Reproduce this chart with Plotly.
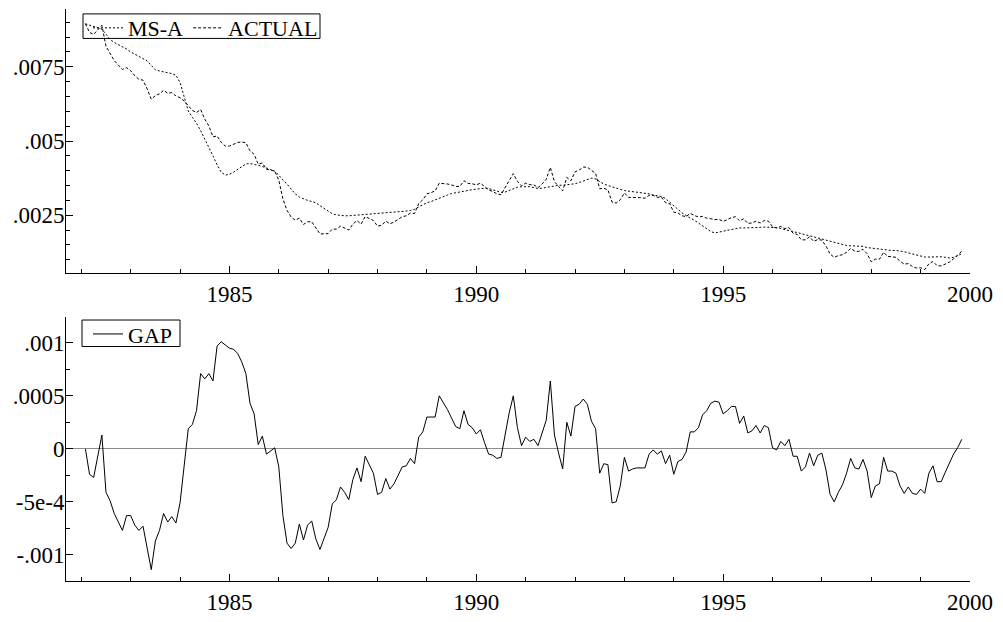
import plotly.graph_objects as go

# ---------------- data (monthly, 1982:2 .. 1999:11) ----------------
START_YEAR = 1982
START_MONTH = 2

msa = [
    0.00895, 0.00890, 0.00886, 0.00882, 0.00877, 0.00860, 0.00842, 0.00832, 0.00825, 0.00818,
    0.00810, 0.00800, 0.00792, 0.00785, 0.00778, 0.00770, 0.00755, 0.00740, 0.00736, 0.00732,
    0.00730, 0.00727, 0.00722, 0.00697, 0.00652, 0.00601, 0.00580, 0.00560, 0.00535, 0.00508,
    0.00480, 0.00450, 0.00420, 0.00395, 0.00385, 0.00388, 0.00395, 0.00405, 0.00415, 0.00423,
    0.00424, 0.00422, 0.00418, 0.00414, 0.00410, 0.00404, 0.00398, 0.00385, 0.00368, 0.00355,
    0.00338, 0.00322, 0.00311, 0.00305, 0.00300, 0.00296, 0.00292, 0.00282, 0.00272, 0.00262,
    0.00255, 0.00251, 0.00249, 0.00248, 0.00248, 0.00249, 0.00250, 0.00251, 0.00252, 0.00254,
    0.00255, 0.00256, 0.00257, 0.00258, 0.00259, 0.00260, 0.00261, 0.00262, 0.00264, 0.00266,
    0.00270, 0.00278, 0.00286, 0.00292, 0.00296, 0.00302, 0.00308, 0.00313, 0.00318, 0.00323,
    0.00326, 0.00328, 0.00330, 0.00334, 0.00336, 0.00338, 0.00340, 0.00341, 0.00340, 0.00336,
    0.00331, 0.00327, 0.00328, 0.00334, 0.00340, 0.00344, 0.00346, 0.00347, 0.00346, 0.00343,
    0.00340, 0.00341, 0.00344, 0.00347, 0.00350, 0.00351, 0.00351, 0.00352, 0.00354, 0.00356,
    0.00360, 0.00365, 0.00370, 0.00375, 0.00372, 0.00362, 0.00355, 0.00350, 0.00345, 0.00341,
    0.00337, 0.00333, 0.00331, 0.00329, 0.00328, 0.00327, 0.00325, 0.00322, 0.00318, 0.00315,
    0.00313, 0.00306, 0.00295, 0.00284, 0.00270, 0.00258, 0.00248, 0.00240, 0.00233, 0.00224,
    0.00214, 0.00204, 0.00195, 0.00190, 0.00192, 0.00196, 0.00199, 0.00202, 0.00205, 0.00207,
    0.00207, 0.00207, 0.00207, 0.00208, 0.00209, 0.00210, 0.00210, 0.00210, 0.00208, 0.00205,
    0.00202, 0.00199, 0.00196, 0.00192, 0.00188, 0.00184, 0.00181, 0.00178, 0.00174, 0.00170,
    0.00166, 0.00162, 0.00158, 0.00155, 0.00151, 0.00148, 0.00147, 0.00147, 0.00147, 0.00145,
    0.00141, 0.00139, 0.00137, 0.00135, 0.00133, 0.00132, 0.00131, 0.00131, 0.00130, 0.00127,
    0.00123, 0.00119, 0.00115, 0.00111, 0.00109, 0.00109, 0.00110, 0.00111, 0.00110, 0.00108,
    0.00106, 0.00108, 0.00113, 0.00120,
]

actual = [
    0.00895, 0.00866, 0.00859, 0.00875, 0.00890, 0.00819, 0.00793, 0.00771, 0.00756, 0.00741,
    0.00747, 0.00737, 0.00720, 0.00708, 0.00705, 0.00676, 0.00641, 0.00653, 0.00659, 0.00671,
    0.00661, 0.00663, 0.00652, 0.00646, 0.00635, 0.00620, 0.00603, 0.00596, 0.00606, 0.00574,
    0.00551, 0.00514, 0.00517, 0.00496, 0.00483, 0.00483, 0.00489, 0.00495, 0.00497, 0.00494,
    0.00467, 0.00455, 0.00422, 0.00426, 0.00405, 0.00402, 0.00399, 0.00368, 0.00305, 0.00266,
    0.00244, 0.00233, 0.00240, 0.00219, 0.00228, 0.00228, 0.00207, 0.00187, 0.00187, 0.00188,
    0.00203, 0.00203, 0.00213, 0.00207, 0.00200, 0.00220, 0.00232, 0.00220, 0.00245, 0.00239,
    0.00232, 0.00213, 0.00216, 0.00230, 0.00221, 0.00227, 0.00236, 0.00245, 0.00248, 0.00257,
    0.00256, 0.00289, 0.00302, 0.00322, 0.00326, 0.00332, 0.00358, 0.00357, 0.00355, 0.00352,
    0.00347, 0.00347, 0.00366, 0.00357, 0.00356, 0.00352, 0.00358, 0.00347, 0.00335, 0.00330,
    0.00322, 0.00319, 0.00342, 0.00368, 0.00390, 0.00364, 0.00349, 0.00358, 0.00353, 0.00352,
    0.00343, 0.00355, 0.00371, 0.00411, 0.00363, 0.00347, 0.00332, 0.00377, 0.00366, 0.00396,
    0.00402, 0.00412, 0.00412, 0.00401, 0.00391, 0.00339, 0.00341, 0.00335, 0.00294, 0.00291,
    0.00302, 0.00325, 0.00310, 0.00310, 0.00310, 0.00309, 0.00307, 0.00317, 0.00317, 0.00310,
    0.00311, 0.00292, 0.00289, 0.00260, 0.00258, 0.00248, 0.00245, 0.00256, 0.00249, 0.00244,
    0.00246, 0.00240, 0.00238, 0.00235, 0.00236, 0.00229, 0.00235, 0.00242, 0.00245, 0.00231,
    0.00238, 0.00222, 0.00224, 0.00230, 0.00224, 0.00232, 0.00230, 0.00211, 0.00207, 0.00212,
    0.00205, 0.00208, 0.00189, 0.00185, 0.00167, 0.00167, 0.00177, 0.00162, 0.00168, 0.00166,
    0.00146, 0.00119, 0.00108, 0.00114, 0.00117, 0.00125, 0.00138, 0.00129, 0.00128, 0.00135,
    0.00120, 0.00093, 0.00102, 0.00102, 0.00125, 0.00111, 0.00110, 0.00108, 0.00095, 0.00085,
    0.00087, 0.00077, 0.00072, 0.00073, 0.00067, 0.00086, 0.00094, 0.00080, 0.00079, 0.00086,
    0.00092, 0.00103, 0.00114, 0.00129,
]

gap = [
    0.00000, -0.00024, -0.00027, -0.00007, 0.00013, -0.00041, -0.00049, -0.00061, -0.00069, -0.00077,
    -0.00063, -0.00063, -0.00072, -0.00077, -0.00073, -0.00094, -0.00114, -0.00087, -0.00077, -0.00061,
    -0.00069, -0.00064, -0.00070, -0.00051, -0.00017, 0.00019, 0.00023, 0.00036, 0.00071, 0.00066,
    0.00071, 0.00064, 0.00097, 0.00101, 0.00098, 0.00095, 0.00094, 0.00090, 0.00082, 0.00071,
    0.00043, 0.00033, 0.00004, 0.00012, -0.00005, -0.00002, 0.00001, -0.00017, -0.00063, -0.00089,
    -0.00094, -0.00089, -0.00071, -0.00086, -0.00072, -0.00068, -0.00085, -0.00095, -0.00085, -0.00074,
    -0.00052, -0.00048, -0.00036, -0.00041, -0.00048, -0.00029, -0.00018, -0.00031, -0.00007, -0.00015,
    -0.00023, -0.00043, -0.00041, -0.00028, -0.00038, -0.00033, -0.00025, -0.00017, -0.00016, -0.00009,
    -0.00014, 0.00011, 0.00016, 0.00030, 0.00030, 0.00030, 0.00050, 0.00044, 0.00037, 0.00029,
    0.00021, 0.00019, 0.00036, 0.00023, 0.00020, 0.00014, 0.00018, 0.00006, -0.00005, -0.00006,
    -0.00009, -0.00008, 0.00014, 0.00034, 0.00050, 0.00020, 0.00003, 0.00011, 0.00007, 0.00009,
    0.00003, 0.00014, 0.00027, 0.00064, 0.00013, -0.00004, -0.00019, 0.00025, 0.00012, 0.00040,
    0.00042, 0.00047, 0.00042, 0.00026, 0.00019, -0.00023, -0.00014, -0.00015, -0.00051, -0.00050,
    -0.00035, -0.00008, -0.00021, -0.00019, -0.00018, -0.00018, -0.00018, -0.00005, -0.00001, -0.00005,
    -0.00002, -0.00014, -0.00006, -0.00024, -0.00012, -0.00010, -0.00003, 0.00016, 0.00016, 0.00020,
    0.00032, 0.00036, 0.00043, 0.00045, 0.00044, 0.00033, 0.00036, 0.00040, 0.00040, 0.00024,
    0.00031, 0.00015, 0.00017, 0.00022, 0.00015, 0.00022, 0.00020, 0.00001, -0.00001, 0.00007,
    0.00003, 0.00009, -0.00007, -0.00007, -0.00021, -0.00017, -0.00004, -0.00016, -0.00006, -0.00004,
    -0.00020, -0.00043, -0.00050, -0.00041, -0.00034, -0.00023, -0.00009, -0.00018, -0.00019, -0.00010,
    -0.00021, -0.00046, -0.00035, -0.00033, -0.00008, -0.00021, -0.00021, -0.00023, -0.00035, -0.00042,
    -0.00036, -0.00042, -0.00043, -0.00038, -0.00042, -0.00023, -0.00016, -0.00031, -0.00031, -0.00022,
    -0.00014, -0.00005, 0.00001, 0.00009,
]

x_tickvals = [1985, 1990, 1995, 2000]
x_ticktext = ["1985", "1990", "1995", "2000"]
x_minor = [1982, 1983, 1984, 1986, 1987, 1988, 1989, 1991, 1992, 1993, 1994, 1996, 1997, 1998, 1999]
top_tickvals = [0.0025, 0.005, 0.0075]
top_ticktext = [".0025", ".005", ".0075"]
bot_tickvals = [-0.001, -0.0005, 0.0, 0.0005, 0.001]
bot_ticktext = ["-.001", "-5e-4", "0", ".0005", ".001"]

t = [START_YEAR + (START_MONTH - 1 + i) / 12 for i in range(len(gap))]

FONT = "Liberation Serif"
TICKFONT = dict(family=FONT, size=23, color="black")
LEGFONT = dict(family=FONT, size=22, color="black")

W, H = 1003, 622
ML, MR, MT, MB = 66, 33, 7, 32
PH = H - MT - MB


def py(y_px):
    """paper y fraction for a pixel row measured from the top of the figure"""
    return (H - MB - y_px) / PH


def px(x_px):
    return (x_px - ML) / (W - ML - MR)


fig = go.Figure()
fig.add_trace(go.Scatter(x=t, y=msa, name="MS-A", mode="lines",
                         line=dict(color="black", width=1, dash="2px,2px"),
                         xaxis="x", yaxis="y", legend="legend"))
fig.add_trace(go.Scatter(x=t, y=actual, name="ACTUAL", mode="lines",
                         line=dict(color="black", width=1, dash="3px,2px"),
                         xaxis="x", yaxis="y", legend="legend"))
fig.add_trace(go.Scatter(x=t, y=gap, name="GAP", mode="lines",
                         line=dict(color="black", width=1),
                         xaxis="x2", yaxis="y2", legend="legend2"))

common = dict(showline=True, linecolor="black", linewidth=1, ticks="inside",
              ticklen=7, tickwidth=1, tickcolor="black", showgrid=False,
              tickfont=TICKFONT, fixedrange=True)

xcommon = dict(common, range=[1981.69, 2000.0], tickmode="array",
               tickvals=x_tickvals, ticktext=x_ticktext, zeroline=False,
               minor=dict(tickvals=x_minor, ticks="inside", ticklen=4,
                          tickwidth=1, tickcolor="black", showgrid=False))

fig.update_layout(
    width=W, height=H, autosize=False,
    margin=dict(l=ML, r=MR, t=MT, b=MB),
    paper_bgcolor="white", plot_bgcolor="white",
    font=dict(family=FONT, color="black"),
    showlegend=True,
    xaxis=dict(xcommon, domain=[0, 1], anchor="y"),
    yaxis=dict(common, domain=[py(276), 1.0], anchor="x",
               range=[0.000555, 0.009448], tickmode="array",
               tickvals=top_tickvals, ticktext=top_ticktext, zeroline=False,
               ticklabelstandoff=-4,
               minor=dict(dtick=0.0005, tick0=0, ticks="inside", ticklen=4,
                          tickwidth=1, tickcolor="black", showgrid=False)),
    xaxis2=dict(xcommon, domain=[0, 1], anchor="y2"),
    yaxis2=dict(common, domain=[0.0, py(320.7)], anchor="x2",
                range=[-0.001247, 0.001246], tickmode="array",
                tickvals=bot_tickvals, ticktext=bot_ticktext,
                zeroline=True, zerolinecolor="#8c8c8c", zerolinewidth=1,
                ticklabelstandoff=-4,
                minor=dict(dtick=0.00025, tick0=0, ticks="inside", ticklen=4,
                           tickwidth=1, tickcolor="black", showgrid=False)),
    legend=dict(x=px(88), y=py(5), xanchor="left", yanchor="top",
                orientation="h", bgcolor="rgba(0,0,0,0)",
                borderwidth=0, font=LEGFONT, itemwidth=30, tracegroupgap=0),
    legend2=dict(x=px(88), y=py(317), xanchor="left", yanchor="top",
                 orientation="h", bgcolor="rgba(0,0,0,0)",
                 borderwidth=0, font=LEGFONT, itemwidth=30),
    shapes=[
        dict(type="rect", xref="paper", yref="paper",
             x0=px(83), x1=px(320), y0=py(37), y1=py(12),
             line=dict(color="black", width=1), fillcolor="rgba(0,0,0,0)"),
        dict(type="rect", xref="paper", yref="paper",
             x0=px(82), x1=px(180), y0=py(351), y1=py(324),
             line=dict(color="black", width=1), fillcolor="rgba(0,0,0,0)"),
    ],
)

fig.write_html("out.html",
               config={"responsive": False, "displayModeBar": False},
               post_script="document.body.style.margin='0';"
                           "document.body.style.overflow='hidden';")
